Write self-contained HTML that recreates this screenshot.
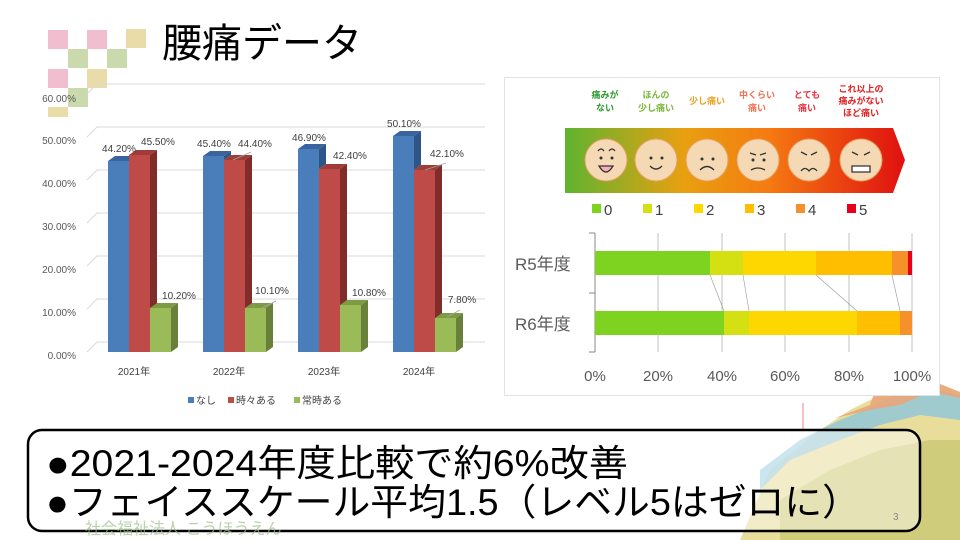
<!DOCTYPE html>
<html><head><meta charset="utf-8"><style>
body{margin:0;width:960px;height:540px;overflow:hidden;background:#fff;font-family:"Liberation Sans","Noto Sans CJK JP",sans-serif;}
svg{position:absolute;left:0;top:0}
</style></head><body>
<svg width="960" height="540" viewBox="0 0 960 540" font-family="Liberation Sans, Noto Sans CJK JP, sans-serif">
<polygon points="740,540 770,470 820,430 850,410 880,395 890,348 905,365 930,380 960,392 960,540" fill="#e0d27a" opacity="0.75"/>
<polygon points="760,470 800,440 840,420 870,408 895,395 920,385 960,395 960,420 920,415 880,425 840,440 790,460 760,490" fill="#8cc7dc" opacity="0.8"/>
<polygon points="835,418 870,405 890,348 905,365 935,382 960,392 960,398 930,392 900,405 870,410" fill="#e9a679" opacity="0.9"/>
<polygon points="780,500 830,470 880,450 930,440 960,440 960,540 780,540" fill="#b6bd5c" opacity="0.5"/>
<line x1="803" y1="403" x2="803" y2="430" stroke="#f08080" stroke-width="1"/>
<g opacity="0.55">
<rect x="48" y="30" width="20" height="19" fill="#e58aa8"/><rect x="87" y="30" width="20" height="19" fill="#e58aa8"/><rect x="126" y="29" width="20" height="19" fill="#d9c163"/>
<rect x="68" y="49" width="20" height="19" fill="#9fbd6a"/><rect x="107" y="49" width="20" height="19" fill="#9fbd6a"/>
<rect x="48" y="69" width="20" height="19" fill="#e58aa8"/><rect x="87" y="69" width="20" height="19" fill="#d9c163"/>
<rect x="68" y="88" width="20" height="19" fill="#9fbd6a"/><rect x="48" y="107" width="20" height="10" fill="#d9c163"/>
</g>
<text x="162" y="57" font-size="40" fill="#000">腰痛データ</text>
<g stroke="#d9d9d9" stroke-width="1" fill="none">
<path d="M87,352 L97,342 H485"/><path d="M87,309 L97,299 H485"/><path d="M87,266 L97,256 H485"/><path d="M87,223 L97,213 H485"/><path d="M87,180 L97,170 H485"/><path d="M87,137 L97,127 H485"/><path d="M87,94 L97,84 H485"/>
</g>
<g font-size="10" fill="#595959" text-anchor="end">
<text x="76" y="359">0.00%</text><text x="76" y="316">10.00%</text><text x="76" y="273">20.00%</text><text x="76" y="230">30.00%</text><text x="76" y="187">40.00%</text><text x="76" y="144">50.00%</text><text x="76" y="102">60.00%</text>
</g>
<g>
<rect x="108" y="161" width="21" height="191" fill="#4a7ebb"/><polygon points="108,161 115,156 136,156 129,161" fill="#3a64a0"/>
<rect x="129" y="155" width="21" height="197" fill="#be4b48"/><polygon points="150,155 157,150 157,347 150,352" fill="#7f2c2a"/><polygon points="129,155 136,150 157,150 150,155" fill="#a03b38"/>
<rect x="150" y="308" width="21" height="44" fill="#9bbb59"/><polygon points="171,308 178,303 178,347 171,352" fill="#68803a"/><polygon points="150,308 157,303 178,303 171,308" fill="#7e9a44"/>
<rect x="203" y="156" width="21" height="196" fill="#4a7ebb"/><polygon points="203,156 210,151 231,151 224,156" fill="#3a64a0"/><polygon points="224,156 231,151 231,155 224,160" fill="#2f5586"/>
<rect x="224" y="160" width="21" height="192" fill="#be4b48"/><polygon points="245,160 252,155 252,347 245,352" fill="#7f2c2a"/><polygon points="224,160 231,155 252,155 245,160" fill="#a03b38"/>
<rect x="245" y="308" width="21" height="44" fill="#9bbb59"/><polygon points="266,308 273,303 273,347 266,352" fill="#68803a"/><polygon points="245,308 252,303 273,303 266,308" fill="#7e9a44"/>
<rect x="298" y="149" width="21" height="203" fill="#4a7ebb"/><polygon points="298,149 305,144 326,144 319,149" fill="#3a64a0"/><polygon points="319,149 326,144 326,164 319,169" fill="#2f5586"/>
<rect x="319" y="169" width="21" height="183" fill="#be4b48"/><polygon points="340,169 347,164 347,347 340,352" fill="#7f2c2a"/><polygon points="319,169 326,164 347,164 340,169" fill="#a03b38"/>
<rect x="340" y="305" width="21" height="47" fill="#9bbb59"/><polygon points="361,305 368,300 368,347 361,352" fill="#68803a"/><polygon points="340,305 347,300 368,300 361,305" fill="#7e9a44"/>
<rect x="393" y="136" width="21" height="216" fill="#4a7ebb"/><polygon points="393,136 400,131 421,131 414,136" fill="#3a64a0"/><polygon points="414,136 421,131 421,165 414,170" fill="#2f5586"/>
<rect x="414" y="170" width="21" height="182" fill="#be4b48"/><polygon points="435,170 442,165 442,347 435,352" fill="#7f2c2a"/><polygon points="414,170 421,165 442,165 435,170" fill="#a03b38"/>
<rect x="435" y="318" width="21" height="34" fill="#9bbb59"/><polygon points="456,318 463,313 463,347 456,352" fill="#68803a"/><polygon points="435,318 442,313 463,313 456,318" fill="#7e9a44"/>
</g>
<g stroke="#a6a6a6" stroke-width="0.8"><line x1="233" y1="160" x2="251" y2="152"/><line x1="262" y1="308" x2="276" y2="301"/><line x1="425" y1="170" x2="446" y2="163"/><line x1="447" y1="317" x2="460" y2="310"/></g>
<g font-size="10" fill="#404040" text-anchor="middle">
<text x="119" y="152">44.20%</text><text x="158" y="145">45.50%</text><text x="179" y="299">10.20%</text>
<text x="214" y="147">45.40%</text><text x="255" y="147">44.40%</text><text x="272" y="294">10.10%</text>
<text x="309" y="141">46.90%</text><text x="350" y="159">42.40%</text><text x="369" y="296">10.80%</text>
<text x="404" y="127">50.10%</text><text x="447" y="157">42.10%</text><text x="462" y="303">7.80%</text>
</g>
<g font-size="10" fill="#404040" text-anchor="middle">
<text x="134" y="375">2021年</text><text x="229" y="375">2022年</text><text x="324" y="375">2023年</text><text x="419" y="375">2024年</text>
</g>
<g font-size="10" fill="#404040">
<rect x="188" y="397" width="6" height="6" fill="#4a7ebb"/><text x="196" y="404">なし</text>
<rect x="228" y="397" width="6" height="6" fill="#be4b48"/><text x="236" y="404">時々ある</text>
<rect x="294" y="397" width="6" height="6" fill="#9bbb59"/><text x="302" y="404">常時ある</text>
</g>
<rect x="504.5" y="77.5" width="435" height="318" fill="#fff" stroke="#e3e3e3"/>
<defs><linearGradient id="gr" x1="0" x2="1"><stop offset="0" stop-color="#5fb330"/><stop offset="0.35" stop-color="#e8a010"/><stop offset="0.6" stop-color="#f57a10"/><stop offset="1" stop-color="#e01010"/></linearGradient></defs>
<polygon points="565,128 893,128 905,160 893,193 565,193" fill="url(#gr)"/>
<g fill="#f5d9b5" stroke="#e8a060" stroke-width="1">
<circle cx="606" cy="160" r="21"/><circle cx="656" cy="160" r="21"/><circle cx="707" cy="160" r="21"/><circle cx="758" cy="160" r="21"/><circle cx="809" cy="160" r="21"/><circle cx="861" cy="160" r="21"/>
</g>
<g fill="none" stroke="#333" stroke-width="1.3">
<path d="M598,151 q3,-4 6,0 M609,151 q3,-4 6,0"/><path d="M599,166 q7,12 14,0 z" fill="#f7b0b8"/>
<path d="M650,166 q6,6 12,0"/><path d="M700,170 q7,-7 14,0"/><path d="M751,170 q7,-4 14,0 M750,153 l6,2 M766,153 l-6,2"/>
<path d="M801,171 q4,-5 8,0 q4,-5 8,0 M801,152 l6,3 M817,152 l-6,3"/><path d="M852,166 h18 v6 h-18 z M852,152 l6,3 M870,152 l-6,3" fill="#fff"/>
</g>
<g fill="#333"><circle cx="601" cy="158" r="1.5"/><circle cx="612" cy="158" r="1.5"/><circle cx="651" cy="158" r="1.5"/><circle cx="662" cy="158" r="1.5"/><circle cx="702" cy="159" r="1.5"/><circle cx="713" cy="159" r="1.5"/><circle cx="753" cy="160" r="1.5"/><circle cx="764" cy="160" r="1.5"/></g>
<g font-size="9" font-weight="bold" text-anchor="middle">
<text x="605" y="98" fill="#2a9a2a">痛みが</text><text x="605" y="111" fill="#2a9a2a">ない</text>
<text x="656" y="98" fill="#7ab83a">ほんの</text><text x="656" y="111" fill="#7ab83a">少し痛い</text>
<text x="707" y="104" fill="#f0a020">少し痛い</text>
<text x="757" y="98" fill="#f07050">中くらい</text><text x="757" y="111" fill="#f07050">痛い</text>
<text x="807" y="98" fill="#e83040">とても</text><text x="807" y="111" fill="#e83040">痛い</text>
<text x="861" y="92" fill="#e02020">これ以上の</text><text x="861" y="104" fill="#e02020">痛みがない</text><text x="861" y="116" fill="#e02020">ほど痛い</text>
</g>
<g font-size="15" fill="#404040">
<rect x="592" y="204" width="9" height="9" fill="#7ed321"/><text x="604" y="215">0</text>
<rect x="643" y="204" width="9" height="9" fill="#d4e012"/><text x="655" y="215">1</text>
<rect x="694" y="204" width="9" height="9" fill="#ffd700"/><text x="706" y="215">2</text>
<rect x="745" y="204" width="9" height="9" fill="#ffbf00"/><text x="757" y="215">3</text>
<rect x="796" y="204" width="9" height="9" fill="#f5902a"/><text x="808" y="215">4</text>
<rect x="847" y="204" width="9" height="9" fill="#e8001a"/><text x="859" y="215">5</text>
</g>
<g stroke="#c0c0c0"><line x1="658" y1="233" x2="658" y2="352"/><line x1="722" y1="233" x2="722" y2="352"/><line x1="785" y1="233" x2="785" y2="352"/><line x1="849" y1="233" x2="849" y2="352"/><line x1="912" y1="233" x2="912" y2="352"/></g>
<g stroke="#888"><line x1="595" y1="233" x2="595" y2="352"/><line x1="589" y1="233" x2="595" y2="233"/><line x1="589" y1="293" x2="595" y2="293"/><line x1="589" y1="352" x2="595" y2="352"/></g>
<rect x="595" y="251" width="115" height="24" fill="#7ed321"/><rect x="710" y="251" width="33" height="24" fill="#d4e012"/><rect x="743" y="251" width="73" height="24" fill="#ffd700"/><rect x="816" y="251" width="76" height="24" fill="#ffbf00"/><rect x="892" y="251" width="16" height="24" fill="#f5902a"/><rect x="908" y="251" width="4" height="24" fill="#e8001a"/>
<rect x="595" y="311" width="129" height="24" fill="#7ed321"/><rect x="724" y="311" width="25" height="24" fill="#d4e012"/><rect x="749" y="311" width="108" height="24" fill="#ffd700"/><rect x="857" y="311" width="43" height="24" fill="#ffbf00"/><rect x="900" y="311" width="12" height="24" fill="#f5902a"/>
<g stroke="#999" stroke-width="0.6"><line x1="710" y1="275" x2="724" y2="311"/><line x1="743" y1="275" x2="749" y2="311"/><line x1="816" y1="275" x2="857" y2="311"/><line x1="892" y1="275" x2="900" y2="311"/></g>
<g font-size="17" fill="#595959">
<text x="515" y="270">R5年度</text><text x="515" y="330">R6年度</text>
</g>
<g font-size="15" fill="#595959" text-anchor="middle">
<text x="595" y="381">0%</text><text x="658" y="381">20%</text><text x="722" y="381">40%</text><text x="785" y="381">60%</text><text x="849" y="381">80%</text><text x="912" y="381">100%</text>
</g>
<rect x="28" y="430" width="892" height="101" rx="14" fill="rgba(255,255,255,0.45)" stroke="#000" stroke-width="2.5"/>
<text x="85" y="534" font-size="16" fill="#9cc08a" opacity="0.7">社会福祉法人 こうほうえん</text>
<g font-size="37" fill="#000">
<text x="46" y="476" textLength="582" lengthAdjust="spacingAndGlyphs">●2021-2024年度比較で約6%改善</text>
<text x="46" y="515" textLength="814" lengthAdjust="spacingAndGlyphs">●フェイススケール平均1.5（レベル5はゼロに）</text>
</g>
<text x="893" y="520" font-size="10" fill="#888">3</text>
</svg>
</body></html>
